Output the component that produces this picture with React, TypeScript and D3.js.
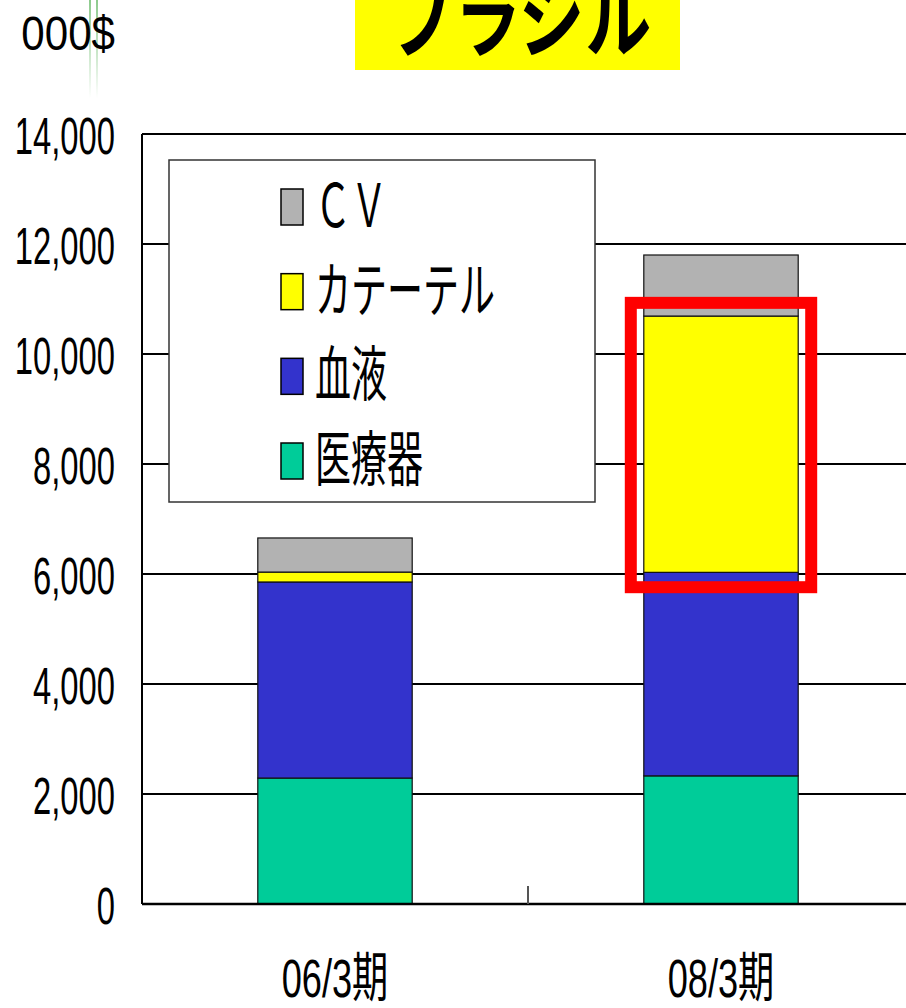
import * as d3 from 'd3';

const categories = ['06/3期', '08/3期'];
const seriesNames = ['医療器', '血液', 'カテーテル', 'CV'];
const legendLabels = ['ＣＶ', 'カテーテル', '血液', '医療器'];
const colors = ['#00cc99', '#3333cc', '#ffff00', '#b2b2b2'];

// values per series, one entry per category (000$)
const iryoki = [2290, 2330];
const ketsueki = [3565, 3700];
const catheter = [180, 4660];
const cv = [620, 1110];

const yTicks = [0, 2000, 4000, 6000, 8000, 10000, 12000, 14000];
const highlightRange = [5760, 10930];

const W = 906;
const H = 1008;
const left = 142;
const bottom = 904;
const top = 134;

const Txt = ({ x, y, sx = 0.63, anchor = 'start', size, weight = 400, family, children }: any) => (
  <text
    transform={`translate(${x},${y}) scale(${sx},1)`}
    textAnchor={anchor}
    fontSize={size}
    fontWeight={weight}
    fontFamily={family}
    fill="#000"
  >
    {children}
  </text>
);

const App = () => {
  const y = d3.scaleLinear().domain([0, 14000]).range([bottom, top]);
  const x = d3
    .scaleBand<string>()
    .domain(categories)
    .range([left, left + 772])
    .paddingInner(0.6)
    .paddingOuter(0.3);
  const bw = x.bandwidth();

  const table = categories.map((c, i) => ({
    cat: c,
    医療器: iryoki[i],
    血液: ketsueki[i],
    カテーテル: catheter[i],
    CV: cv[i],
  }));
  const stacked = d3.stack<any>().keys(seriesNames)(table);

  const midTick = (x(categories[0]) as number) + bw + (x.step() * x.paddingInner()) / 2;
  const hx = (x(categories[1]) as number) - 13;

  const legendY = d3.scalePoint<string>().domain(legendLabels).range([207, 461]);
  const legendColor = [colors[3], colors[2], colors[1], colors[0]];

  const numFont = '"Liberation Sans", "Noto Sans CJK JP", sans-serif';
  const cjkFont = '"Noto Sans CJK JP", "Liberation Sans", sans-serif';

  return (
    <svg width={W} height={H} style={{ position: 'absolute', left: 0, top: 0 }}>
      <defs>
        <linearGradient id="gl" x1="0" y1="0" x2="0" y2="1">
          <stop offset="0" stopColor="#7fc47f" stopOpacity={0.9} />
          <stop offset="1" stopColor="#7fc47f" stopOpacity={0} />
        </linearGradient>
      </defs>
      <rect width={W} height={H} fill="#fff" />

      {/* decorative lines */}
      <rect x={89} y={0} width={2} height={98} fill="url(#gl)" />
      <rect x={96} y={0} width={2} height={98} fill="url(#gl)" />

      {/* title */}
      <rect x={355} y={-10} width={325} height={80} fill="#ffff00" />
      <Txt x={520} y={50} sx={0.75} anchor="middle" size={88} weight={700} family={cjkFont}>
        ブラジル
      </Txt>

      <Txt x={115} y={50} sx={0.86} anchor="end" size={49} family={numFont}>
        000$
      </Txt>

      {/* gridlines */}
      {yTicks.slice(1).map((t) => (
        <line key={t} x1={left} x2={W} y1={y(t)} y2={y(t)} stroke="#000" strokeWidth={1.8} />
      ))}

      {/* y tick labels */}
      {yTicks.map((t) => (
        <Txt key={t} x={115} y={y(t) + 20} sx={0.63} anchor="end" size={52} family={numFont}>
          {d3.format(',')(t)}
        </Txt>
      ))}

      {/* legend */}
      <rect x={169} y={160} width={426} height={342} fill="#fff" stroke="#333" strokeWidth={1.5} />
      {legendLabels.map((l, i) => (
        <g key={l}>
          <rect
            x={281}
            y={(legendY(l) as number) - 18}
            width={22}
            height={36}
            fill={legendColor[i]}
            stroke="#000"
            strokeWidth={1.5}
          />
          <Txt x={315} y={(legendY(l) as number) + 20} sx={0.6} size={60} family={cjkFont}>
            {l}
          </Txt>
        </g>
      ))}

      {/* bars */}
      {stacked.map((s, si) => (
        <g key={s.key}>
          {s.map((d, i) => (
            <rect
              key={i}
              x={x(categories[i])}
              y={y(d[1])}
              width={bw}
              height={y(d[0]) - y(d[1])}
              fill={colors[si]}
              stroke="#111"
              strokeWidth={1.2}
            />
          ))}
        </g>
      ))}

      {/* highlight */}
      <rect
        x={hx}
        y={y(highlightRange[1])}
        width={bw + 26}
        height={y(highlightRange[0]) - y(highlightRange[1])}
        fill="none"
        stroke="#ff0000"
        strokeWidth={12}
      />

      {/* axes */}
      <line x1={left} x2={left} y1={top} y2={bottom} stroke="#000" strokeWidth={2} />
      <line x1={left} x2={W} y1={bottom} y2={bottom} stroke="#000" strokeWidth={2.5} />
      <line x1={midTick} x2={midTick} y1={bottom - 18} y2={bottom} stroke="#555" strokeWidth={2} />

      {categories.map((c) => (
        <Txt key={c} x={(x(c) as number) + bw / 2} y={997} sx={0.67} anchor="middle" size={54} family={numFont}>
          {c}
        </Txt>
      ))}
    </svg>
  );
};

export default App;
